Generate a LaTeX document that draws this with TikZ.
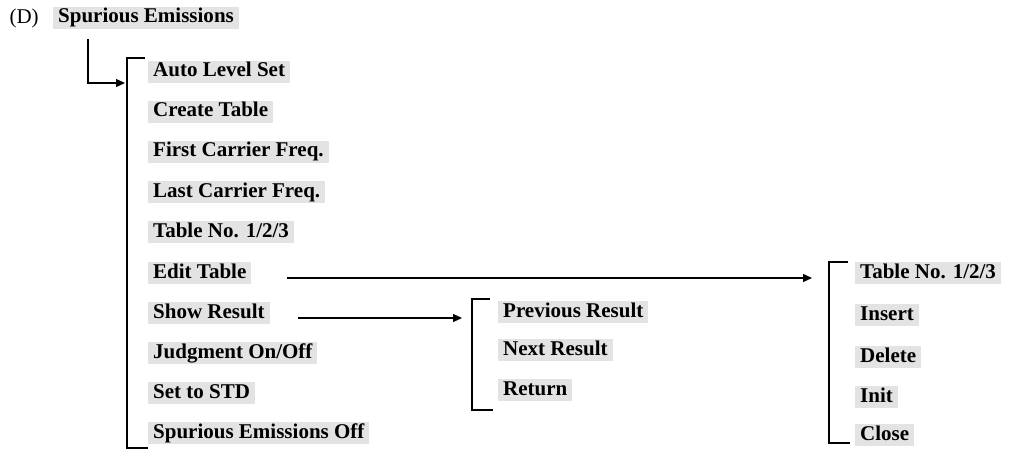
\documentclass[tikz,border=0pt]{standalone}
\usepackage{fontspec}
\setmainfont{Liberation Serif}
\usepackage{tikz}
\usetikzlibrary{arrows.meta,positioning,calc}

\begin{document}
\begin{tikzpicture}[x=1pt,y=-1pt,font=\fontsize{21}{24}\selectfont]
\useasboundingbox (0,0) rectangle (1016,457);
\tikzset{item/.style={anchor=west,fill=gray!22,font=\fontsize{21}{24}\selectfont\bfseries,
  inner xsep=5pt,inner ysep=2pt,text height=14pt,text depth=4pt}}
\tikzset{arr/.style={-{Triangle[length=9pt,width=8pt]},line width=1.3pt}}
\tikzset{brk/.style={line width=1.6pt}}
% title
\node[anchor=west] (lbl) at (6,18) {(D)};
\node[item] (root) at (53,18) {Spurious Emissions};
% main menu
\foreach \y/\id/\txt in {72/auto/{Auto Level Set}, 112/create/{Create Table},
  152/first/{First Carrier Freq.}, 192/last/{Last Carrier Freq.},
  232/tabno/{Table No. 1/2/3}, 273/edit/{Edit Table}, 313/show/{Show Result},
  353/judge/{Judgment On/Off}, 393/setstd/{Set to STD}, 433/seoff/{Spurious Emissions Off}} {
  \node[item] (\id) at (148,\y) {\txt};
}
% result submenu
\foreach \y/\id/\txt in {312/prev/{Previous Result}, 350/next/{Next Result}, 390/ret/{Return}} {
  \node[item] (\id) at (498,\y) {\txt};
}
% edit table submenu
\foreach \y/\id/\txt in {273/etabno/{Table No. 1/2/3}, 315/ins/{Insert}, 357/del/{Delete},
  397/init/{Init}, 435/close/{Close}} {
  \node[item] (\id) at (855,\y) {\txt};
}
% brackets
\coordinate (mainIn) at (125,83);
\coordinate (resIn) at (462,318);
\coordinate (editIn) at (812,278);
\draw[brk,line width=2.2pt] (145,58) -- (127,58) -- (127,448) -- (148,448);
\draw[brk] (490,299) -- (472,299) -- (472,410) -- (493,410);
\draw[brk] (848,262) -- (829,262) -- (829,443) -- (850,443);
% connectors
\draw[arr] ($(root.south west)+(35,10)$) |- (mainIn);
\draw[arr] ([xshift=35pt,yshift=-5pt]edit.east) -- (editIn);
\draw[arr] ([xshift=28pt,yshift=-5pt]show.east) -- (resIn);
\end{tikzpicture}
\end{document}
